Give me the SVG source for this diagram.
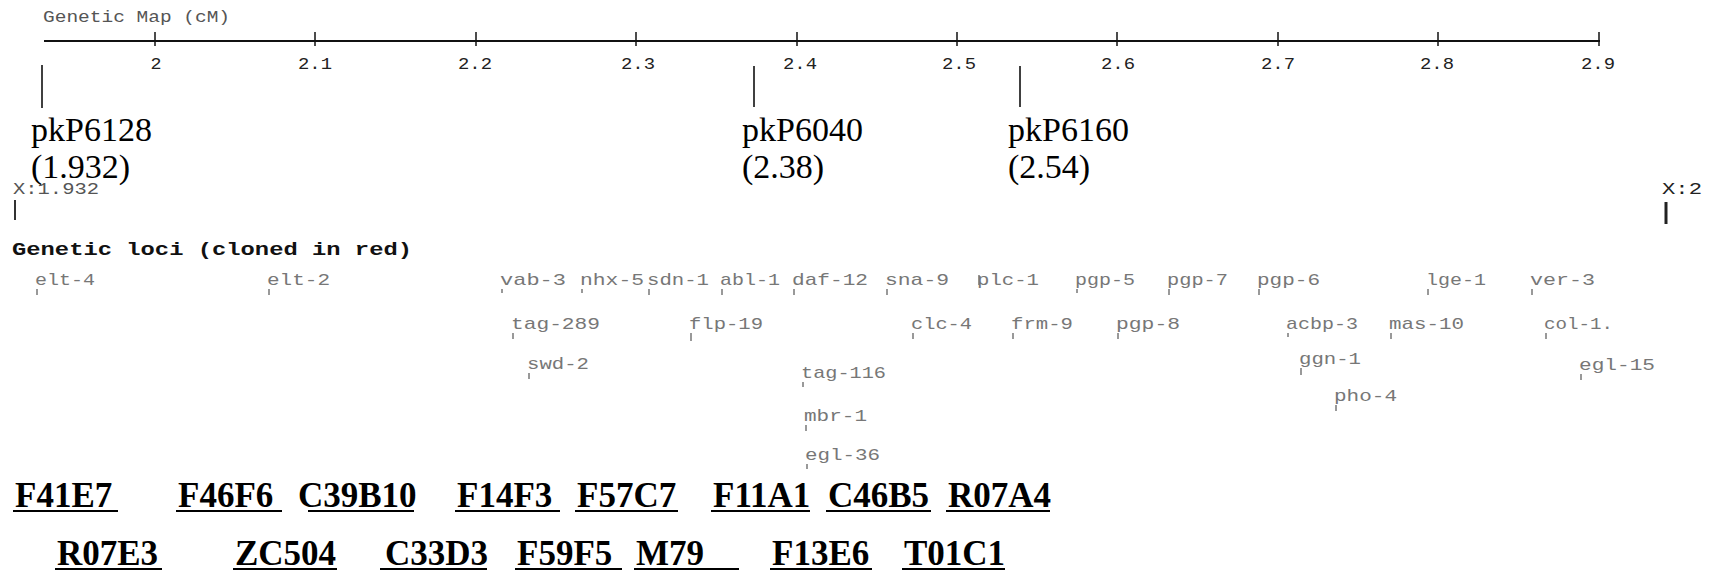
<svg xmlns="http://www.w3.org/2000/svg" width="1716" height="573" viewBox="0 0 1716 573">
<style>
.px{font-family:"Liberation Mono","DejaVu Sans Mono",monospace;font-size:17px}
.title{fill:#555;font-size:16px}
.tk{fill:#222;text-anchor:middle;font-size:17px}
.loc{fill:#777}
.hdr{font-family:"Liberation Mono","DejaVu Sans Mono",monospace;font-size:18px;font-weight:bold;fill:#111}
.mk{font-family:"Liberation Serif","Times New Roman",serif;font-size:34px;fill:#000}
.cl{font-family:"Liberation Serif","Times New Roman",serif;font-size:35px;font-weight:bold;fill:#000}
.ax{stroke:#111;stroke-width:2;fill:none}
.tick{stroke:#111;stroke-width:1.5}
.pin{stroke:#777;stroke-width:1.5}
.ul{stroke:#000;stroke-width:2}
.ml{stroke:#000;stroke-width:1.5}
</style>
<rect width="1716" height="573" fill="#fff"/>

<g id="genetic-map-axis">
<text class="px title" x="43" y="22" textLength="187" lengthAdjust="spacingAndGlyphs">Genetic Map (cM)</text>
<line class="ax" x1="44" y1="41" x2="1600" y2="41"/>
<g class="tick">
<line x1="155" y1="32" x2="155" y2="46"/>
<line x1="315" y1="32" x2="315" y2="46"/>
<line x1="476" y1="32" x2="476" y2="46"/>
<line x1="636" y1="32" x2="636" y2="46"/>
<line x1="797" y1="32" x2="797" y2="46"/>
<line x1="957" y1="32" x2="957" y2="46"/>
<line x1="1117" y1="32" x2="1117" y2="46"/>
<line x1="1278" y1="32" x2="1278" y2="46"/>
<line x1="1438" y1="32" x2="1438" y2="46"/>
<line x1="1599" y1="32" x2="1599" y2="46"/>
</g>
<text class="px tk" x="156" y="69" textLength="11" lengthAdjust="spacingAndGlyphs">2</text>
<text class="px tk" x="315" y="69" textLength="34" lengthAdjust="spacingAndGlyphs">2.1</text>
<text class="px tk" x="475" y="69" textLength="34" lengthAdjust="spacingAndGlyphs">2.2</text>
<text class="px tk" x="638" y="69" textLength="34" lengthAdjust="spacingAndGlyphs">2.3</text>
<text class="px tk" x="800" y="69" textLength="34" lengthAdjust="spacingAndGlyphs">2.4</text>
<text class="px tk" x="959" y="69" textLength="34" lengthAdjust="spacingAndGlyphs">2.5</text>
<text class="px tk" x="1118" y="69" textLength="34" lengthAdjust="spacingAndGlyphs">2.6</text>
<text class="px tk" x="1278" y="69" textLength="34" lengthAdjust="spacingAndGlyphs">2.7</text>
<text class="px tk" x="1437" y="69" textLength="34" lengthAdjust="spacingAndGlyphs">2.8</text>
<text class="px tk" x="1598" y="69" textLength="34" lengthAdjust="spacingAndGlyphs">2.9</text>
</g>

<g id="connectors">
<line class="ml" x1="42" y1="65" x2="42" y2="108"/>
<line class="ml" x1="754" y1="66" x2="754" y2="107"/>
<line class="ml" x1="1020" y1="66" x2="1020" y2="107"/>
<line stroke="#333" stroke-width="2" x1="15" y1="200" x2="15" y2="220"/>
<line stroke="#222" stroke-width="3" x1="1666" y1="202" x2="1666" y2="224"/>
</g>

<g id="marker-pkP6128">
<text class="mk" x="31" y="141">pkP6128</text>
<text class="mk" x="31" y="178">(1.932)</text>
</g>
<g id="marker-pkP6040">
<text class="mk" x="742" y="141">pkP6040</text>
<text class="mk" x="742" y="178">(2.38)</text>
</g>
<g id="marker-pkP6160">
<text class="mk" x="1008" y="141">pkP6160</text>
<text class="mk" x="1008" y="178">(2.54)</text>
</g>

<g id="physical-map-ends">
<text class="px" fill="#555" x="13" y="194" textLength="86" lengthAdjust="spacingAndGlyphs">X:1.932</text>
<text class="px" fill="#222" x="1662" y="194" textLength="40" lengthAdjust="spacingAndGlyphs">X:2</text>
</g>

<g id="genetic-loci">
<text class="hdr" x="12" y="255" textLength="400" lengthAdjust="spacingAndGlyphs">Genetic loci (cloned in red)</text>
<g class="loc px">
<text x="35" y="285" textLength="60" lengthAdjust="spacingAndGlyphs">elt-4</text>
<text x="267" y="285" textLength="63" lengthAdjust="spacingAndGlyphs">elt-2</text>
<text x="500" y="285" textLength="66" lengthAdjust="spacingAndGlyphs">vab-3</text>
<text x="580" y="285" textLength="64" lengthAdjust="spacingAndGlyphs">nhx-5</text>
<text x="647" y="285" textLength="62" lengthAdjust="spacingAndGlyphs">sdn-1</text>
<text x="720" y="285" textLength="60" lengthAdjust="spacingAndGlyphs">abl-1</text>
<text x="792" y="285" textLength="76" lengthAdjust="spacingAndGlyphs">daf-12</text>
<text x="885" y="285" textLength="64" lengthAdjust="spacingAndGlyphs">sna-9</text>
<text x="977" y="285" textLength="62" lengthAdjust="spacingAndGlyphs">plc-1</text>
<text x="1075" y="285" textLength="60" lengthAdjust="spacingAndGlyphs">pgp-5</text>
<text x="1167" y="285" textLength="61" lengthAdjust="spacingAndGlyphs">pgp-7</text>
<text x="1257" y="285" textLength="63" lengthAdjust="spacingAndGlyphs">pgp-6</text>
<text x="1426" y="285" textLength="60" lengthAdjust="spacingAndGlyphs">lge-1</text>
<text x="1530" y="285" textLength="65" lengthAdjust="spacingAndGlyphs">ver-3</text>
<text x="511" y="329" textLength="89" lengthAdjust="spacingAndGlyphs">tag-289</text>
<text x="689" y="329" textLength="74" lengthAdjust="spacingAndGlyphs">flp-19</text>
<text x="911" y="329" textLength="61" lengthAdjust="spacingAndGlyphs">clc-4</text>
<text x="1011" y="329" textLength="62" lengthAdjust="spacingAndGlyphs">frm-9</text>
<text x="1116" y="329" textLength="64" lengthAdjust="spacingAndGlyphs">pgp-8</text>
<text x="1286" y="329" textLength="72" lengthAdjust="spacingAndGlyphs">acbp-3</text>
<text x="1389" y="329" textLength="75" lengthAdjust="spacingAndGlyphs">mas-10</text>
<text x="1544" y="329" textLength="69" lengthAdjust="spacingAndGlyphs">col-1.</text>
<text x="527" y="369" textLength="62" lengthAdjust="spacingAndGlyphs">swd-2</text>
<text x="801" y="378" textLength="85" lengthAdjust="spacingAndGlyphs">tag-116</text>
<text x="1299" y="364" textLength="62" lengthAdjust="spacingAndGlyphs">ggn-1</text>
<text x="1579" y="370" textLength="76" lengthAdjust="spacingAndGlyphs">egl-15</text>
<text x="1334" y="401" textLength="63" lengthAdjust="spacingAndGlyphs">pho-4</text>
<text x="804" y="421" textLength="63" lengthAdjust="spacingAndGlyphs">mbr-1</text>
<text x="805" y="460" textLength="75" lengthAdjust="spacingAndGlyphs">egl-36</text>
</g>
<g class="pin">
<line x1="37" y1="289" x2="37" y2="295"/>
<line x1="269" y1="289" x2="269" y2="295"/>
<line x1="502" y1="289" x2="502" y2="293"/>
<line x1="582" y1="289" x2="582" y2="293"/>
<line x1="649" y1="289" x2="649" y2="295"/>
<line x1="722" y1="289" x2="722" y2="295"/>
<line x1="794" y1="289" x2="794" y2="295"/>
<line x1="887" y1="289" x2="887" y2="295"/>
<line x1="979" y1="275" x2="979" y2="285"/>
<line x1="1077" y1="289" x2="1077" y2="293"/>
<line x1="1169" y1="289" x2="1169" y2="295"/>
<line x1="1259" y1="289" x2="1259" y2="295"/>
<line x1="1428" y1="289" x2="1428" y2="295"/>
<line x1="1532" y1="289" x2="1532" y2="295"/>
<line x1="513" y1="333" x2="513" y2="339"/>
<line x1="691" y1="333" x2="691" y2="341"/>
<line x1="913" y1="333" x2="913" y2="339"/>
<line x1="1013" y1="333" x2="1013" y2="339"/>
<line x1="1118" y1="333" x2="1118" y2="339"/>
<line x1="1288" y1="333" x2="1288" y2="337"/>
<line x1="1391" y1="333" x2="1391" y2="339"/>
<line x1="1546" y1="333" x2="1546" y2="339"/>
<line x1="529" y1="373" x2="529" y2="379"/>
<line x1="803" y1="382" x2="803" y2="387"/>
<line x1="1301" y1="368" x2="1301" y2="375"/>
<line x1="1581" y1="374" x2="1581" y2="380"/>
<line x1="1336" y1="405" x2="1336" y2="411"/>
<line x1="806" y1="425" x2="806" y2="431"/>
<line x1="807" y1="464" x2="807" y2="469"/>
</g>
</g>

<g id="clones-row1">
<text class="cl" x="15" y="507">F41E7</text><line class="ul" x1="13" y1="511" x2="118" y2="511"/>
<text class="cl" x="178" y="507">F46F6</text><line class="ul" x1="176" y1="511" x2="282" y2="511"/>
<text class="cl" x="298" y="507">C39B10</text><line class="ul" x1="308" y1="511" x2="414" y2="511"/>
<text class="cl" x="457" y="507">F14F3</text><line class="ul" x1="455" y1="511" x2="560" y2="511"/>
<text class="cl" x="577" y="507">F57C7</text><line class="ul" x1="575" y1="511" x2="678" y2="511"/>
<text class="cl" x="713" y="507">F11A1</text><line class="ul" x1="711" y1="511" x2="810" y2="511"/>
<text class="cl" x="828" y="507">C46B5</text><line class="ul" x1="826" y1="511" x2="931" y2="511"/>
<text class="cl" x="948" y="507">R07A4</text><line class="ul" x1="946" y1="511" x2="1050" y2="511"/>
</g>
<g id="clones-row2">
<text class="cl" x="57" y="565">R07E3</text><line class="ul" x1="55" y1="569" x2="162" y2="569"/>
<text class="cl" x="235" y="565">ZC504</text><line class="ul" x1="233" y1="569" x2="337" y2="569"/>
<text class="cl" x="385" y="565">C33D3</text><line class="ul" x1="380" y1="569" x2="487" y2="569"/>
<text class="cl" x="517" y="565">F59F5</text><line class="ul" x1="515" y1="569" x2="622" y2="569"/>
<text class="cl" x="636" y="565">M79</text><line class="ul" x1="634" y1="569" x2="739" y2="569"/>
<text class="cl" x="772" y="565">F13E6</text><line class="ul" x1="770" y1="569" x2="872" y2="569"/>
<text class="cl" x="904" y="565">T01C1</text><line class="ul" x1="902" y1="569" x2="1005" y2="569"/>
</g>
</svg>
